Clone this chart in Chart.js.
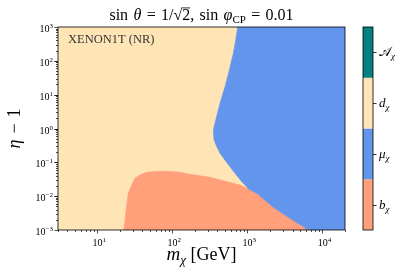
<!DOCTYPE html>
<html>
<head>
<meta charset="utf-8">
<script src="https://cdn.jsdelivr.net/npm/chart.js"></script>
<style>
  html, body { margin: 0; padding: 0; background: #fff; }
</style>
</head>
<body>
<canvas id="chart" width="407" height="280"></canvas>
<script>
// axis ranges: m_chi [GeV] and eta - 1
const massRange = [3, 2e4];
const etaRange = [1e-3, 1e3];

// mu_chi / d_chi boundary, from the top edge down to the tip
const muEdgeMass = [743, 700, 650, 575, 504, 432, 379, 352, 360, 391, 432, 541, 685, 841, 980];
const muEdgeEta = [1000, 413, 167, 53.6, 17.2, 5.56, 1.78, 0.90, 0.457, 0.290, 0.185, 0.0935, 0.0473, 0.0267, 0.019];

// mu_chi / b_chi boundary, left to right
const muBEdgeMass = [1030, 1333, 2218, 3700, 6490];
const muBEdgeEta = [0.0163, 0.0121, 0.00468, 0.00221, 0.001];

// b_chi / d_chi boundary, from bottom left over the top
const bEdgeMass = [22.7, 24.2, 25.9, 28.8, 31.8, 37.1, 45.6, 62, 84, 127, 172, 318, 478, 798];
const bEdgeEta = [0.001, 0.0039, 0.0121, 0.0214, 0.0337, 0.0422, 0.0507, 0.0543, 0.0543, 0.0507, 0.0443, 0.0361, 0.0286, 0.0214];

const xTickExp = [1, 2, 3, 4];
const yTickExp = [-3, -2, -1, 0, 1, 2, 3];

// colorbar, bottom to top
const cbarLetters = ['b', 'μ', 'd', '𝒜'];
const cbarColors = ['#ffa07a', '#6495ed', '#ffe4b5', '#008080'];

const SERIF = '"Liberation Serif", "DejaVu Serif", serif';

const pts = (xs, ys) => xs.map((x, i) => ({ x: x, y: ys[i] }));

const dPoly = pts([massRange[0], massRange[0], massRange[1], massRange[1]],
                  [etaRange[0], etaRange[1], etaRange[1], etaRange[0]]);
const muPoly = pts(muEdgeMass, muEdgeEta)
  .concat(pts(muBEdgeMass, muBEdgeEta))
  .concat(pts([massRange[1], massRange[1]], [etaRange[0], etaRange[1]]));
const bPoly = pts(bEdgeMass, bEdgeEta).concat(pts(muBEdgeMass, muBEdgeEta));

function region(label, data, color, order) {
  return {
    label: label, data: data, showLine: true, fill: 'shape',
    backgroundColor: color, borderColor: color, borderWidth: 0.6,
    pointRadius: 0, tension: 0, order: order
  };
}

// draws a run of text pieces: {t, size, italic, dy, over}
function richWidth(ctx, parts) {
  let w = 0;
  for (const p of parts) {
    ctx.font = (p.italic ? 'italic ' : '') + p.size + 'px ' + SERIF;
    w += ctx.measureText(p.t).width;
  }
  return w;
}
function drawRich(ctx, parts, x, y, align) {
  const w = richWidth(ctx, parts);
  let cx = align === 'center' ? x - w / 2 : align === 'right' ? x - w : x;
  ctx.textBaseline = 'alphabetic';
  ctx.textAlign = 'left';
  for (const p of parts) {
    ctx.font = (p.italic ? 'italic ' : '') + p.size + 'px ' + SERIF;
    const pw = ctx.measureText(p.t).width;
    ctx.fillText(p.t, cx, y + (p.dy || 0));
    if (p.over) {
      ctx.fillRect(cx, y - p.size * 0.78, pw, 0.8);
    }
    cx += pw;
  }
}

const decor = {
  id: 'decor',
  afterDraw(chart) {
    const ctx = chart.ctx;
    const a = chart.chartArea;
    const xs = chart.scales.x, ys = chart.scales.y;
    ctx.save();
    ctx.fillStyle = '#000';
    ctx.strokeStyle = '#000';
    ctx.lineWidth = 0.8;
    ctx.strokeRect(a.left, a.top, a.right - a.left, a.bottom - a.top);

    // x ticks
    ctx.lineWidth = 0.7;
    for (let e = 0; e <= 4; e++) {
      for (let m = 1; m <= 9; m++) {
        const v = m * Math.pow(10, e);
        if (v < massRange[0] || v > massRange[1]) continue;
        const px = Math.round(xs.getPixelForValue(v)) + 0.5;
        const len = m === 1 ? 3.5 : 2;
        ctx.beginPath();
        ctx.moveTo(px, a.bottom);
        ctx.lineTo(px, a.bottom + len);
        ctx.stroke();
      }
    }
    for (const e of xTickExp) {
      const px = xs.getPixelForValue(Math.pow(10, e));
      drawRich(ctx, [{ t: '10', size: 10 }, { t: String(e), size: 7, dy: -4 }], px + 2, 246, 'center');
    }
    // y ticks
    for (let e = -3; e <= 2; e++) {
      for (let m = 1; m <= 10; m++) {
        const v = m * Math.pow(10, e);
        if (v < etaRange[0] || v > etaRange[1]) continue;
        const py = Math.round(ys.getPixelForValue(v)) + 0.5;
        const len = (m === 1 || m === 10) ? 3.5 : 2;
        ctx.beginPath();
        ctx.moveTo(a.left, py);
        ctx.lineTo(a.left - len, py);
        ctx.stroke();
      }
    }
    for (const e of yTickExp) {
      const py = ys.getPixelForValue(Math.pow(10, e));
      const sup = e < 0 ? '\u2212' + Math.abs(e) : String(e);
      drawRich(ctx, [{ t: '10', size: 10 }, { t: sup, size: 7, dy: -4 }], a.left - 5, py + 5, 'right');
    }

    // title
    const sp = '\u2004';
    drawRich(ctx, [
      { t: 'sin' + sp, size: 16 }, { t: 'θ', size: 16, italic: true },
      { t: sp + '=' + sp + '1/√', size: 16 }, { t: '2', size: 16, over: true },
      { t: ',' + sp + 'sin' + sp, size: 16 }, { t: 'φ', size: 16, italic: true },
      { t: 'CP', size: 11, dy: 3 }, { t: sp + '=' + sp + '0.01', size: 16 }
    ], (a.left + a.right) / 2, 20, 'center');

    // axis titles
    drawRich(ctx, [
      { t: 'm', size: 19, italic: true }, { t: 'χ', size: 13, italic: true, dy: 4 },
      { t: ' [GeV]', size: 18 }
    ], (a.left + a.right) / 2, 260, 'center');
    ctx.save();
    ctx.translate(20, (a.top + a.bottom) / 2);
    ctx.rotate(-Math.PI / 2);
    drawRich(ctx, [{ t: 'η', size: 18, italic: true }, { t: sp + '\u2212' + sp + '1', size: 18 }], 0, 0, 'center');
    ctx.restore();

    // annotation
    ctx.fillStyle = '#333';
    drawRich(ctx, [{ t: 'XENON1T (NR)', size: 12.5 }], a.left + 10, a.top + 16, 'left');

    // colorbar
    const cbL = 363, cbW = 10;
    const segH = (a.bottom - a.top) / cbarColors.length;
    cbarColors.forEach((c, i) => {
      ctx.fillStyle = c;
      ctx.fillRect(cbL, a.bottom - (i + 1) * segH, cbW, segH);
    });
    ctx.strokeStyle = '#000';
    ctx.lineWidth = 0.8;
    ctx.strokeRect(cbL, a.top, cbW, a.bottom - a.top);
    ctx.fillStyle = '#000';
    cbarLetters.forEach((l, i) => {
      const cy = a.bottom - (i + 0.5) * segH;
      ctx.beginPath();
      ctx.moveTo(cbL + cbW, Math.round(cy) + 0.5);
      ctx.lineTo(cbL + cbW + 3.5, Math.round(cy) + 0.5);
      ctx.stroke();
      drawRich(ctx, [{ t: l, size: 13, italic: i < 3 }, { t: 'χ', size: 9, italic: true, dy: 3 }],
               cbL + cbW + 6, cy + 4, 'left');
    });
    ctx.restore();
  }
};

new Chart(document.getElementById('chart'), {
  type: 'scatter',
  data: {
    datasets: [
      region('mu', muPoly, cbarColors[1], 1),
      region('b', bPoly, cbarColors[0], 2),
      region('d', dPoly, cbarColors[2], 3)
    ]
  },
  options: {
    responsive: false,
    animation: false,
    devicePixelRatio: 1,
    layout: { padding: { top: 27, right: 62, left: 0, bottom: 0 } },
    plugins: { legend: { display: false }, tooltip: { enabled: false } },
    scales: {
      x: {
        type: 'logarithmic', min: massRange[0], max: massRange[1],
        grid: { display: false }, border: { display: false }, ticks: { display: false },
        afterFit: s => { s.height = 50; }
      },
      y: {
        type: 'logarithmic', min: etaRange[0], max: etaRange[1],
        grid: { display: false }, border: { display: false }, ticks: { display: false },
        afterFit: s => { s.width = 58; }
      }
    }
  },
  plugins: [decor]
});
</script>
</body>
</html>
